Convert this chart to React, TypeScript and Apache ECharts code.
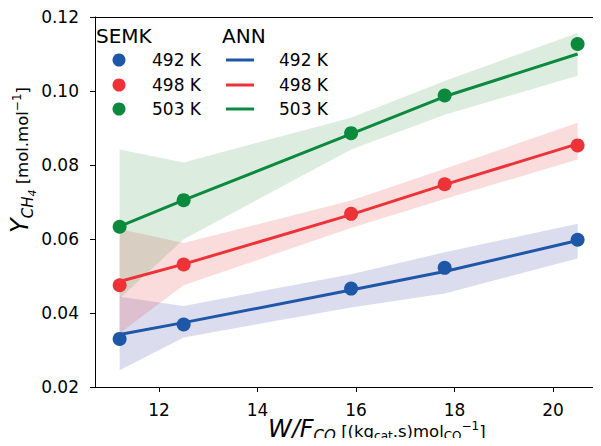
import React, { useEffect, useRef } from "react";
import * as echarts from "echarts";

// ---- Data ----
const xValues = [11.2, 12.5, 15.9, 17.8, 20.5];
const temperatures = ["492 K", "498 K", "503 K"];
const semk492 = [0.033, 0.0369, 0.0466, 0.0522, 0.0598];
const semk498 = [0.0475, 0.0531, 0.0668, 0.0748, 0.0853];
const semk503 = [0.0633, 0.0705, 0.0886, 0.0988, 0.1127];
const ann492 = [0.0342, 0.0374, 0.0462, 0.0512, 0.0596];
const ann498 = [0.0485, 0.0532, 0.0666, 0.0747, 0.0857];
const ann503 = [0.0634, 0.0705, 0.0884, 0.0985, 0.11];
const band492Upper = [0.0444, 0.0419, 0.0505, 0.0564, 0.0641];
const band492Lower = [0.0245, 0.0334, 0.0415, 0.0453, 0.0547];
const band498Upper = [0.0627, 0.0589, 0.0704, 0.079, 0.0914];
const band498Lower = [0.0345, 0.0475, 0.063, 0.0708, 0.0815];
const band503Upper = [0.0842, 0.0807, 0.0928, 0.1027, 0.1157];
const band503Lower = [0.0439, 0.0599, 0.0842, 0.0936, 0.1041];
const xTickValues = [12, 14, 16, 18, 20];

const FONT = '"DejaVu Sans"';
const lineColors = ["#1f57a8", "#ee3338", "#0b8a3e"];
const bandColors = ["rgba(80,80,175,0.2)", "rgba(235,70,70,0.19)", "rgba(60,150,80,0.18)"];

let measureCtx: CanvasRenderingContext2D | null = null;
function measure(text: string, font: string): number {
  if (!measureCtx) measureCtx = document.createElement("canvas").getContext("2d");
  if (!measureCtx) return text.length * 8;
  measureCtx.font = font;
  return measureCtx.measureText(text).width;
}

type Run = { t: string; s: number; it?: boolean; dy?: number };
function layoutRuns(runs: Run[]) {
  let cursor = 0;
  const out: any[] = [];
  runs.forEach((r) => {
    const font = `${r.it ? "italic " : ""}${r.s}px ${FONT}`;
    out.push({
      type: "text",
      x: cursor,
      y: (r.dy || 0) - 0.346 * r.s,
      style: {
        text: r.t,
        fontFamily: "DejaVu Sans",
        fontSize: r.s,
        fontStyle: r.it ? "italic" : "normal",
        fill: "#000",
        verticalAlign: "middle",
        align: "left",
      },
    });
    cursor += measure(r.t, font);
  });
  return out;
}

const xLabelRuns: Run[] = [
  { t: "W/F", s: 24, it: true },
  { t: "CO", s: 15, it: true, dy: 4 },
  { t: " [(kg", s: 16.5 },
  { t: "cat", s: 12, dy: 3 },
  { t: ".s)mol", s: 16.5 },
  { t: "CO", s: 12, dy: 3 },
  { t: "−1", s: 12, dy: -7 },
  { t: "]", s: 16.5 },
];
const yLabelRuns: Run[] = [
  { t: "Y", s: 24, it: true },
  { t: "CH", s: 15, it: true, dy: 5 },
  { t: "4", s: 11, it: true, dy: 8 },
  { t: " [mol.mol", s: 16.5 },
  { t: "−1", s: 12, dy: -7 },
  { t: "]", s: 16.5 },
];

function bandSeries(upper: number[], lower: number[], color: string) {
  return {
    type: "custom",
    silent: true,
    z: 1,
    clip: true,
    data: [[xValues[0], upper[0]]],
    renderItem: (_params: any, api: any) => {
      const pts: number[][] = [];
      for (let i = 0; i < xValues.length; i++) pts.push(api.coord([xValues[i], upper[i]]));
      for (let i = xValues.length - 1; i >= 0; i--) pts.push(api.coord([xValues[i], lower[i]]));
      return { type: "polygon", shape: { points: pts }, style: { fill: color } };
    },
  };
}

export default function App() {
  const ref = useRef<HTMLDivElement>(null);
  useEffect(() => {
    if (!ref.current) return;
    const chart = echarts.init(ref.current, undefined, { renderer: "svg" });
    const semk = [semk492, semk498, semk503];
    const ann = [ann492, ann498, ann503];
    const bands = [
      [band492Upper, band492Lower],
      [band498Upper, band498Lower],
      [band503Upper, band503Lower],
    ];
    const series: any[] = [];
    bands.forEach((b, i) => series.push(bandSeries(b[0], b[1], bandColors[i])));
    ann.forEach((a, i) =>
      series.push({
        type: "line",
        name: "ANN " + temperatures[i],
        data: xValues.map((x, j) => [x, a[j]]),
        showSymbol: false,
        symbol: "none",
        lineStyle: { color: lineColors[i], width: 3 },
        z: 3,
      })
    );
    semk.forEach((s, i) =>
      series.push({
        type: "scatter",
        name: "SEMK " + temperatures[i],
        data: xValues.map((x, j) => [x, s[j]]),
        symbol: "circle",
        symbolSize: 14,
        itemStyle: { color: lineColors[i], opacity: 1 },
        z: 4,
      })
    );

    const legendEls: any[] = [
      { type: "text", x: 96, y: 36, style: { text: "SEMK", fontFamily: "DejaVu Sans", fontSize: 20, fill: "#000", verticalAlign: "middle" } },
      { type: "text", x: 222, y: 36, style: { text: "ANN", fontFamily: "DejaVu Sans", fontSize: 20, fill: "#000", verticalAlign: "middle" } },
    ];
    const rowY = [60, 85, 109];
    temperatures.forEach((t, i) => {
      legendEls.push({ type: "circle", shape: { cx: 119, cy: rowY[i], r: 6.5 }, style: { fill: lineColors[i] } });
      legendEls.push({ type: "text", x: 152, y: rowY[i], style: { text: t, fontFamily: "DejaVu Sans", fontSize: 17, fill: "#000", verticalAlign: "middle" } });
      legendEls.push({ type: "line", shape: { x1: 226, y1: rowY[i], x2: 254, y2: rowY[i] }, style: { stroke: lineColors[i], lineWidth: 3 } });
      legendEls.push({ type: "text", x: 279, y: rowY[i], style: { text: t, fontFamily: "DejaVu Sans", fontSize: 17, fill: "#000", verticalAlign: "middle" } });
    });

    chart.setOption({
      animation: false,
      backgroundColor: "#fff",
      grid: { left: 95, right: 0, top: 17, bottom: 59, containLabel: false },
      xAxis: [
        {
          type: "value",
          min: 10.7,
          max: 20.975,
          axisLine: { show: true, lineStyle: { color: "#000", width: 1 } },
          axisTick: { show: true, length: 5, lineStyle: { color: "#000" }, customValues: xTickValues },
          axisLabel: { customValues: xTickValues, fontSize: 17, color: "#000", fontFamily: "DejaVu Sans", margin: 14 },
          splitLine: { show: false },
        },
        {
          type: "value",
          position: "top",
          min: 10.7,
          max: 20.975,
          axisLine: { show: true, lineStyle: { color: "#000", width: 1 } },
          axisTick: { show: false },
          axisLabel: { show: false },
          splitLine: { show: false },
        },
      ],
      yAxis: {
        type: "value",
        min: 0.02,
        max: 0.12,
        interval: 0.02,
        axisLine: { show: true, lineStyle: { color: "#000", width: 1 } },
        axisTick: { show: true, length: 5, lineStyle: { color: "#000" } },
        axisLabel: {
          fontSize: 17,
          color: "#000",
          fontFamily: "DejaVu Sans",
          margin: 16,
          formatter: (v: number) => v.toFixed(2),
        },
        splitLine: { show: false },
      },
      series,
      graphic: [
        ...legendEls,
        { type: "group", x: 268, y: 437, children: layoutRuns(xLabelRuns) },
        { type: "group", x: 28, y: 233, rotation: Math.PI / 2, children: layoutRuns(yLabelRuns) },
      ],
    });
    return () => chart.dispose();
  }, []);
  return <div ref={ref} style={{ width: 601, height: 446, margin: -8 }} />;
}
